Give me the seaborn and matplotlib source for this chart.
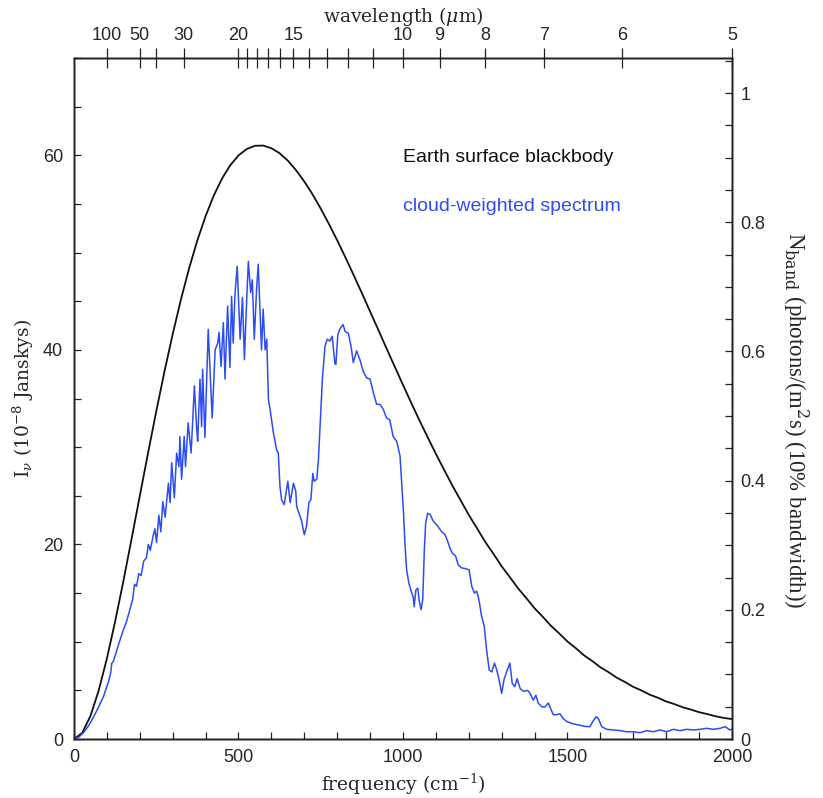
import numpy as np
import pandas as pd
import seaborn as sns
import matplotlib.pyplot as plt
from matplotlib.ticker import MultipleLocator

# blackbody curve (every 25 cm-1)
bb_freq = list(range(0, 2001, 25))
bb_int = [0.0, 0.63, 2.36, 4.98, 8.27, 12.07, 16.21, 20.56, 24.98, 29.38,
          33.67, 37.77, 41.61, 45.17, 48.39, 51.26, 53.75, 55.87, 57.61, 58.98,
          59.99, 60.64, 60.98, 61.00, 60.73, 60.21, 59.45, 58.47, 57.31, 55.99,
          54.52, 52.94, 51.26, 49.51, 47.69, 45.84, 43.95, 42.06, 40.15, 38.27,
          36.40, 34.56, 32.76, 31.02, 29.31, 27.67, 26.06, 24.55, 23.04, 21.66,
          20.27, 19.03, 17.75, 16.63, 15.48, 14.48, 13.44, 12.56, 11.63, 10.85,
          10.02, 9.35, 8.61, 8.02, 7.38, 6.87, 6.30, 5.86, 5.36, 4.99,
          4.56, 4.24, 3.86, 3.59, 3.27, 3.03, 2.76, 2.56, 2.34, 2.17, 2.05]

# cloud-weighted spectrum
cloud_freq = [0, 15, 30, 45, 60, 75, 90, 105, 112, 115, 120, 128, 140, 150, 160, 170, 178, 184, 190, 197,
              204, 212, 220, 226, 232, 240, 246, 251, 258, 264, 270, 277, 287, 292, 297, 305, 312, 319, 322, 327,
              335, 339, 347, 356, 366, 373, 376, 383, 388, 391, 398, 408, 420, 429, 437, 441, 447, 454, 459, 467,
              474, 479, 484, 489, 496, 505, 512, 518, 525, 530, 537, 542, 548, 555, 560, 570, 575, 581, 586, 591,
              596, 606, 616, 621, 626, 631, 639, 650, 657, 667, 674, 677, 692, 700, 707, 714, 720, 726, 730, 738,
              743, 748, 755, 763, 770, 778, 785, 793, 796, 802, 809, 818, 824, 834, 842, 849, 859, 869, 879, 890,
              900, 910, 920, 930, 940, 950, 960, 970, 981, 991, 996, 1001, 1006, 1011, 1018, 1024, 1031, 1034, 1039, 1045,
              1049, 1055, 1060, 1065, 1069, 1075, 1082, 1092, 1105, 1118, 1128, 1136, 1143, 1150, 1160, 1168, 1178, 1191, 1201, 1209,
              1217, 1224, 1231, 1239, 1247, 1254, 1262, 1270, 1278, 1285, 1292, 1300, 1307, 1315, 1325, 1332, 1340, 1347, 1356, 1366,
              1379, 1386, 1396, 1404, 1411, 1422, 1432, 1442, 1449, 1457, 1467, 1477, 1487, 1498, 1513, 1533, 1553, 1568, 1577, 1587,
              1594, 1604, 1619, 1639, 1660, 1680, 1700, 1720, 1741, 1761, 1781, 1802, 1822, 1842, 1862, 1883, 1903, 1923, 1943, 1964,
              1979, 1994, 2000]
cloud_int = [0.0, 0.2, 0.7, 1.4, 2.3, 3.3, 4.4, 5.9, 6.9, 7.8, 8.0, 8.9, 10.2, 11.2, 12.1, 13.3, 14.3, 15.9, 15.7, 17.0,
             16.8, 18.3, 18.6, 20.0, 19.4, 20.8, 21.6, 20.2, 23.0, 21.3, 24.4, 22.8, 26.3, 24.3, 28.4, 24.8, 29.4, 28.0, 31.1, 26.7,
             31.1, 28.0, 32.5, 29.4, 36.3, 31.8, 30.6, 37.0, 32.1, 38.0, 31.0, 42.1, 33.0, 40.0, 40.7, 41.8, 38.3, 42.8, 37.0, 44.5,
             38.2, 45.5, 40.7, 45.5, 48.6, 41.1, 45.4, 39.0, 45.2, 49.1, 45.9, 47.2, 41.1, 46.2, 48.8, 40.0, 44.2, 40.0, 41.1, 34.9,
             33.9, 31.5, 29.7, 29.4, 26.0, 24.6, 24.1, 26.5, 24.3, 26.3, 25.5, 23.9, 22.4, 21.0, 21.9, 24.3, 24.6, 27.3, 26.5, 26.7,
             28.7, 32.1, 37.0, 40.4, 41.1, 40.9, 41.4, 38.6, 38.5, 41.6, 42.2, 42.6, 41.9, 41.7, 40.4, 38.7, 39.9, 39.0, 37.8, 37.1,
             37.0, 35.6, 34.4, 34.4, 33.9, 33.0, 32.8, 31.1, 30.6, 29.1, 26.3, 23.6, 20.1, 17.4, 16.0, 15.3, 14.6, 13.6, 15.3, 15.5,
             14.3, 13.3, 14.3, 19.5, 22.2, 23.2, 23.1, 22.4, 21.9, 21.3, 21.0, 20.3, 19.6, 19.1, 18.8, 17.9, 17.6, 17.5, 17.4, 15.7,
             15.0, 15.2, 14.3, 12.6, 11.6, 9.2, 7.1, 6.9, 7.8, 7.1, 6.1, 4.7, 6.1, 6.9, 7.8, 5.7, 5.4, 6.2, 5.2, 4.9,
             5.0, 4.7, 4.0, 4.5, 3.7, 3.3, 3.3, 3.7, 3.1, 2.5, 2.5, 2.6, 2.1, 1.8, 1.6, 1.45, 1.3, 1.27, 1.8, 2.3,
             2.1, 1.27, 1.0, 0.93, 0.86, 0.75, 0.75, 0.65, 0.86, 0.75, 0.93, 0.75, 1.0, 0.86, 1.0, 0.93, 1.0, 1.1, 1.0, 1.1,
             1.27, 0.93, 1.0]

# top axis wavelength ticks (micron)
wl_ticks = [100, 50, 40, 30, 20, 19, 18, 17, 16, 15, 14, 13, 12, 11, 10, 9, 8, 7, 6, 5]
wl_labeled = [100, 50, 30, 20, 15, 10, 9, 8, 7, 6, 5]

sns.set_style("ticks")
plt.rcParams['font.family'] = ['Liberation Sans', 'DejaVu Sans']
plt.rcParams['mathtext.fontset'] = 'dejavuserif'

bb_df = pd.DataFrame({'freq': bb_freq, 'I': bb_int})
cloud_df = pd.DataFrame({'freq': cloud_freq, 'I': cloud_int})

fig = plt.figure(figsize=(8.23, 7.98), dpi=100)
ax = fig.add_axes([0.0899, 0.0739, 0.7995, 0.8534])

sns.lineplot(data=bb_df, x='freq', y='I', ax=ax, color='#111111', lw=1.3, sort=False, estimator=None)
sns.lineplot(data=cloud_df, x='freq', y='I', ax=ax, color='#2c4df2', lw=1.1, sort=False, estimator=None)

ax.set_xlim(0, 2000)
ax.set_ylim(0, 70)
ax.xaxis.set_major_locator(MultipleLocator(500))
ax.xaxis.set_minor_locator(MultipleLocator(100))
ax.yaxis.set_major_locator(MultipleLocator(20))
ax.yaxis.set_minor_locator(MultipleLocator(5))
ax.tick_params(which='both', direction='in', length=5, width=0.9, labelsize=13, color='#222222')
ax.tick_params(axis='x', pad=7)
ax.tick_params(axis='y', pad=8)

serif = ['DejaVu Serif']
ax.set_xlabel('frequency (cm$^{-1}$)', family=serif, fontsize=13.5, labelpad=4)
ax.set_ylabel(r'I$_\nu$ (10$^{-8}$ Janskys)', family=serif, fontsize=13.5, labelpad=5)

# right axis: photon number per band
ax_r = ax.twinx()
ax_r.set_ylim(0, 70 / 66.4)
ax_r.set_yticks([0, 0.2, 0.4, 0.6, 0.8, 1.0])
ax_r.set_yticklabels(['0', '0.2', '0.4', '0.6', '0.8', '1'])
ax_r.yaxis.set_minor_locator(MultipleLocator(0.05))
ax_r.tick_params(which='both', direction='in', length=5, width=0.9, labelsize=13, pad=6, color='#222222')
ax_r.set_ylabel(r'N$_{\rm band}$ (photons/(m$^2$s) (10% bandwidth))',
                family=['Liberation Serif'], fontsize=16.5, rotation=-90, va='center')
ax_r.yaxis.set_label_coords(1.096, 0.468)

# top axis: wavelength
ax_t = ax.twiny()
ax_t.set_xlim(ax.get_xlim())
ax_t.set_xticks([1e4 / w for w in wl_ticks])
ax_t.set_xticklabels([str(w) if w in wl_labeled else '' for w in wl_ticks])
ax_t.tick_params(axis='x', direction='inout', length=14, width=0.9, labelsize=13, pad=3, color='#222222')
ax_t.set_xlabel(r'wavelength ($\mu$m)', family=serif, fontsize=13.5, labelpad=4)

for a in (ax, ax_r, ax_t):
    for s in a.spines.values():
        s.set_color('#222222')
        s.set_linewidth(1.0)

ax.text(1000, 59.8, 'Earth surface blackbody', fontsize=14, color='#111111', va='center')
ax.text(1000, 54.7, 'cloud-weighted spectrum', fontsize=14, color='#2c4df2', va='center')

fig.savefig('out.png', dpi=100)
